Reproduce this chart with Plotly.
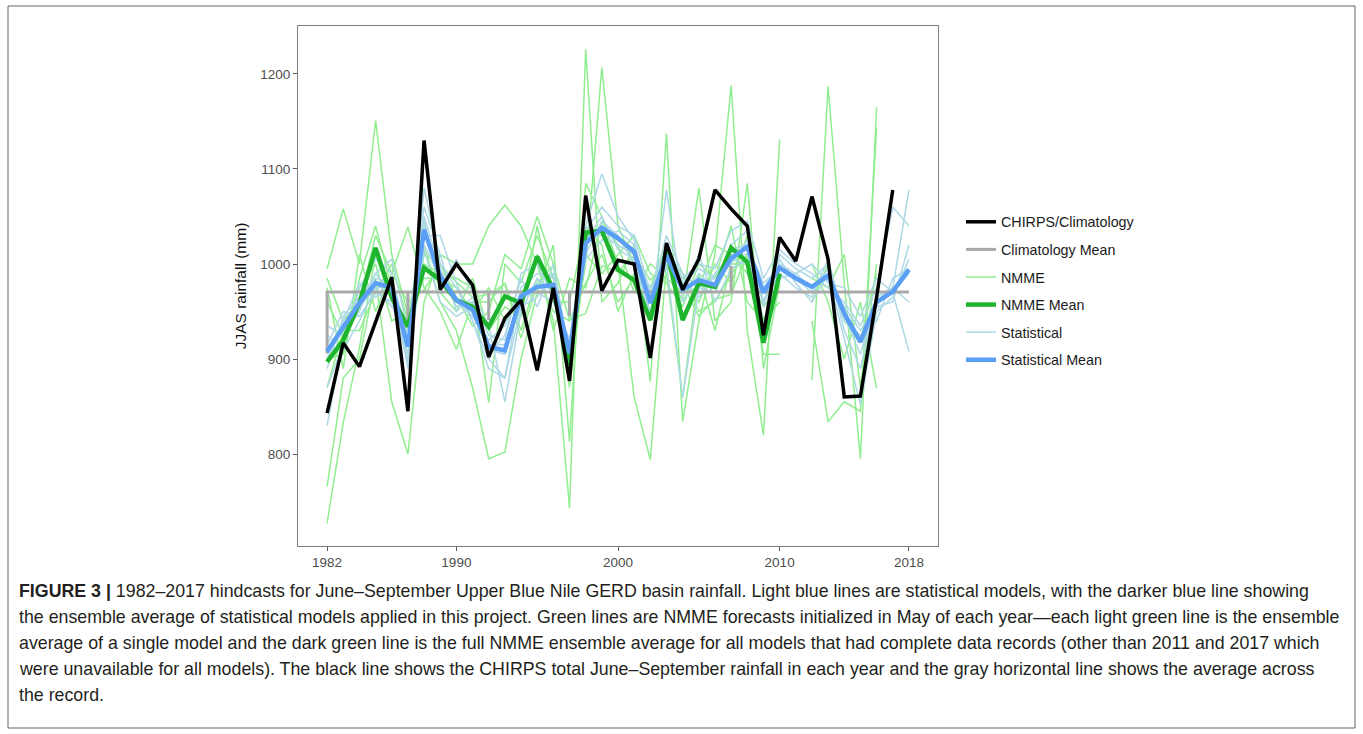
import plotly.graph_objects as go

# ---------------- data ----------------
YEARS_OBS = list(range(1982, 2018))      # 1982-2017
YEARS_STAT = list(range(1982, 2019))     # 1982-2018
YEARS_NMME = list(range(1982, 2017))     # 1982-2016 (2011 missing)
YEARS_NMME_MEAN = list(range(1982, 2011))

chirps = [843, 917, 892, 938, 986, 845, 1130, 973, 1000, 978, 902, 943, 962, 888,
          975, 877, 1072, 972, 1004, 1000, 901, 1022, 973, 1005, 1078, 1058, 1040,
          925, 1028, 1003, 1071, 1005, 860, 861, 965, 1078]

clim_x = [1982, 1982, 1987, 1987, 1987, 1992, 1992, 1992, 1997, 1997, 1997,
          2007, 2007, 2007, 2018]
clim_y = [906, 970.5, 970.5, 940, 970.5, 970.5, 941, 970.5, 970.5, 945, 970.5,
          970.5, 998, 970.5, 970.5]

nmme_m0 = [727, 833, 912, 1010, 960, 930, 1020, 960, 930, 870, 795, 802, 900, 970, 1020, 813, 1085, 1050,
           1000, 860, 794, 1000, 960, 1080, 940, 960, 1085, 890, 980, None, 878, 1187, 980, 795, 1165]
nmme_m1 = [766, 880, 900, 985, 855, 800, 960, 1010, 1000, 1000, 1040, 1062, 1040, 1000, 940, 743, 1226, 960,
           980, 1020, 876, 1137, 834, 940, 1010, 1188, 930, 820, 1131, None, 940, 834, 855, 845, 1143]
nmme_m2 = [995, 1058, 1000, 1151, 1010, 948, 1000, 990, 985, 975, 854, 1000, 980, 1030, 985, 900, 1000, 1207,
           1040, 1000, 960, 990, 860, 990, 930, 1000, 1000, 905, 905, None, None, None, None, None, None]
nmme_m3 = [985, 940, 960, 1030, 990, 1039, 975, 950, 910, 960, 960, 980, 930, 985, 950, 940, 980, 1010,
           960, 985, 975, 1020, 980, 960, 1000, 980, 1030, 960, 1000, None, 1000, 960, 900, 960, 869]
nmme_m4 = [900, 905, 985, 1040, 975, 905, 1010, 1000, 965, 935, 950, 1010, 995, 1050, 1000, 870, 1010, 990,
           1010, 1030, 990, 980, 955, 1000, 985, 1040, 960, 940, 960, None, 960, 1000, 940, 920, 990]
nmme_m5 = [870, 930, 930, 970, 1000, 940, 1045, 970, 950, 985, 930, 955, 945, 1040, 960, 960, 1040, 1020,
           950, 990, 950, 1010, 990, 950, 960, 990, 1010, 925, 990, None, 985, 975, 1010, 870, 1000]
nmme_m6 = [960, 925, 975, 1000, 940, 950, 985, 985, 975, 950, 975, 940, 960, 1010, 930, 985, 975, 1045,
           1020, 970, 1000, 985, 970, 975, 1020, 1010, 990, 955, 975, None, None, None, None, None, None]
nmme_m7 = [975, 890, 1010, 950, 990, 960, 973, 999, 981, 965, 968, 979, 922, 979, 999, 941, 948, 998,
           992, 1009, 983, 998, 979, 945, 963, 968, 1011, 941, 979, None, None, None, None, None, None]
nmme_models = [nmme_m0, nmme_m1, nmme_m2, nmme_m3, nmme_m4, nmme_m5, nmme_m6, nmme_m7]

nmme_mean = [897, 920, 959, 1017, 965, 934, 996, 983, 962, 955, 934, 966, 959, 1008, 973, 894,
             1033, 1035, 994, 983, 941, 1015, 941, 980, 976, 1017, 1002, 917, 990]

stat_s1 = [870, 915, 975, 1005, 990, 900, 1080, 1000, 975, 940, 890, 880, 975, 990, 985, 880, 1040, 1095, 1050,
           1025, 945, 1078, 960, 990, 975, 1020, 1035, 955, 1010, 995, 985, 1000, 930, 890, 965, 975, 1078]
stat_s2 = [830, 925, 950, 990, 1005, 930, 1060, 1010, 950, 965, 925, 920, 990, 1000, 965, 920, 1035, 1060, 1040,
           1030, 970, 1020, 985, 1000, 995, 1035, 1045, 985, 1015, 1000, 990, 975, 960, 935, 975, 1060, 1040]
stat_s3 = [915, 950, 945, 970, 960, 905, 1030, 1030, 980, 940, 900, 880, 955, 965, 990, 895, 1010, 1045, 1030,
           1000, 950, 1000, 859, 975, 985, 1000, 1025, 960, 1005, 980, 960, 990, 920, 852, 950, 965, 1005]
stat_s4 = [900, 940, 980, 965, 985, 925, 1045, 975, 1005, 970, 935, 855, 950, 985, 970, 915, 1030, 1030, 1020,
           1010, 975, 995, 985, 965, 990, 1010, 1010, 975, 985, 990, 1000, 980, 975, 945, 985, 970, 908]
stat_s5 = [935, 925, 960, 990, 970, 895, 1015, 960, 945, 955, 905, 925, 985, 955, 1000, 905, 1025, 1050, 1015,
           1005, 940, 1015, 970, 1010, 960, 995, 1005, 960, 990, 975, 965, 1005, 940, 925, 940, 985, 995]
stat_s6 = [925, 910, 940, 975, 955, 935, 1020, 985, 960, 945, 920, 935, 970, 970, 960, 920, 1005, 1025, 1035,
           1020, 965, 1030, 990, 975, 970, 1005, 1000, 975, 1000, 990, 975, 985, 955, 930, 955, 960, 1020]
stat_s7 = [890, 945, 965, 985, 980, 890, 1050, 995, 955, 960, 910, 905, 960, 980, 990, 898, 1020, 1035, 1025,
           1015, 960, 1010, 980, 995, 985, 1015, 1020, 980, 995, 985, 970, 995, 945, 905, 960, 975, 960]
stat_s8 = [905, 935, 955, 975, 975, 915, 1040, 985, 960, 950, 915, 915, 965, 975, 975, 905, 1025, 1040, 1030,
           1010, 960, 1005, 975, 980, 975, 1005, 1020, 970, 995, 985, 975, 985, 950, 920, 960, 970, 990]
stat_models = [stat_s1, stat_s2, stat_s3, stat_s4, stat_s5, stat_s6, stat_s7, stat_s8]

stat_mean = [908, 933, 959, 980, 975, 913, 1036, 987, 962, 952, 913, 909, 966, 976, 978, 906, 1022, 1038,
             1027, 1013, 959, 1009, 973, 983, 978, 1006, 1018, 970, 996, 985, 976, 988, 948, 918, 960, 971, 994]

x_ticks = [1982, 1990, 2000, 2010, 2018]
y_ticks = [800, 900, 1000, 1100, 1200]

caption_lines = [
    "<b>FIGURE 3 |</b> 1982–2017 hindcasts for June–September Upper Blue Nile GERD basin rainfall. Light blue lines are statistical models, with the darker blue line showing",
    "the ensemble average of statistical models applied in this project. Green lines are NMME forecasts initialized in May of each year—each light green line is the ensemble",
    "average of a single model and the dark green line is the full NMME ensemble average for all models that had complete data records (other than 2011 and 2017 which",
    "were unavailable for all models). The black line shows the CHIRPS total June–September rainfall in each year and the gray horizontal line shows the average across",
    "the record.",
]

# ---------------- layout geometry ----------------
W, H = 1363, 734
PL, PR, PT, PB = 298, 938, 26, 546


def px(xp):
    return (xp - PL) / (PR - PL)


def py(yp):
    return (PB - yp) / (PB - PT)


FONT = "Liberation Sans, Arial, Helvetica, sans-serif"

fig = go.Figure()

# light green NMME models
for i, m in enumerate(nmme_models):
    fig.add_trace(go.Scatter(x=YEARS_NMME, y=m, mode="lines", name="NMME",
                             line=dict(color="#90ee90", width=1.5),
                             legendgroup="nmme", showlegend=(i == 0), legendrank=3,
                             connectgaps=False, hoverinfo="skip"))
# light blue statistical models
for i, m in enumerate(stat_models):
    fig.add_trace(go.Scatter(x=YEARS_STAT, y=m, mode="lines", name="Statistical",
                             line=dict(color="#add8e6", width=1.5),
                             legendgroup="stat", showlegend=(i == 0), legendrank=5,
                             hoverinfo="skip"))
# climatology mean
fig.add_trace(go.Scatter(x=clim_x, y=clim_y, mode="lines", name="Climatology Mean",
                         line=dict(color="#a9a9a9", width=3),
                         legendgroup="clim", legendrank=2))
# NMME mean
fig.add_trace(go.Scatter(x=YEARS_NMME_MEAN, y=nmme_mean, mode="lines", name="NMME Mean",
                         line=dict(color="#1fb42d", width=4.5),
                         legendgroup="nmmemean", legendrank=4))
# statistical mean
fig.add_trace(go.Scatter(x=YEARS_STAT, y=stat_mean, mode="lines", name="Statistical Mean",
                         line=dict(color="#5a9ef5", width=4.5),
                         legendgroup="statmean", legendrank=6))
# CHIRPS
fig.add_trace(go.Scatter(x=YEARS_OBS, y=chirps, mode="lines", name="CHIRPS/Climatology",
                         line=dict(color="#000000", width=3.5),
                         legendgroup="chirps", legendrank=1))

axis_common = dict(showline=True, linecolor="#7f7f7f", linewidth=1.2, mirror=True,
                   ticks="outside", ticklen=4, tickwidth=1.1, tickcolor="#5a5a5a",
                   showgrid=False, zeroline=False,
                   tickfont=dict(family=FONT, size=13.5, color="#4d4d4d"))

fig.update_xaxes(range=[1980.2, 2019.8], tickvals=x_ticks, ticktext=[str(t) for t in x_ticks],
                 **axis_common)
fig.update_yaxes(range=[703.2, 1250.5], tickvals=y_ticks, ticktext=[str(t) for t in y_ticks],
                 title=dict(text="JJAS rainfall (mm)", font=dict(family=FONT, size=15.5, color="#111111"),
                            standoff=9),
                 **axis_common)

annotations = []
for k, line in enumerate(caption_lines):
    annotations.append(dict(text=line, xref="paper", yref="paper", x=px(17), y=py(591 + 26 * k),
                            xanchor="left", yanchor="middle", showarrow=False, align="left",
                            font=dict(family=FONT, size=17.8, color="#231f20")))

shapes = [dict(type="rect", xref="paper", yref="paper", x0=px(8), x1=px(1355), y0=py(6), y1=py(728),
               line=dict(color="#666666", width=1), fillcolor="rgba(0,0,0,0)", layer="below")]

fig.update_layout(
    width=W, height=H,
    margin=dict(l=PL, r=W - PR, t=PT, b=H - PB, pad=0),
    paper_bgcolor="white", plot_bgcolor="white",
    showlegend=True,
    legend=dict(x=px(961), y=py(206), xanchor="left", yanchor="top",
                font=dict(family=FONT, size=14.3, color="#1a1a1a"),
                tracegroupgap=6, itemwidth=30, bgcolor="rgba(0,0,0,0)",
                traceorder="grouped"),
    annotations=annotations,
    shapes=shapes,
)

fig.write_html("out.html")
